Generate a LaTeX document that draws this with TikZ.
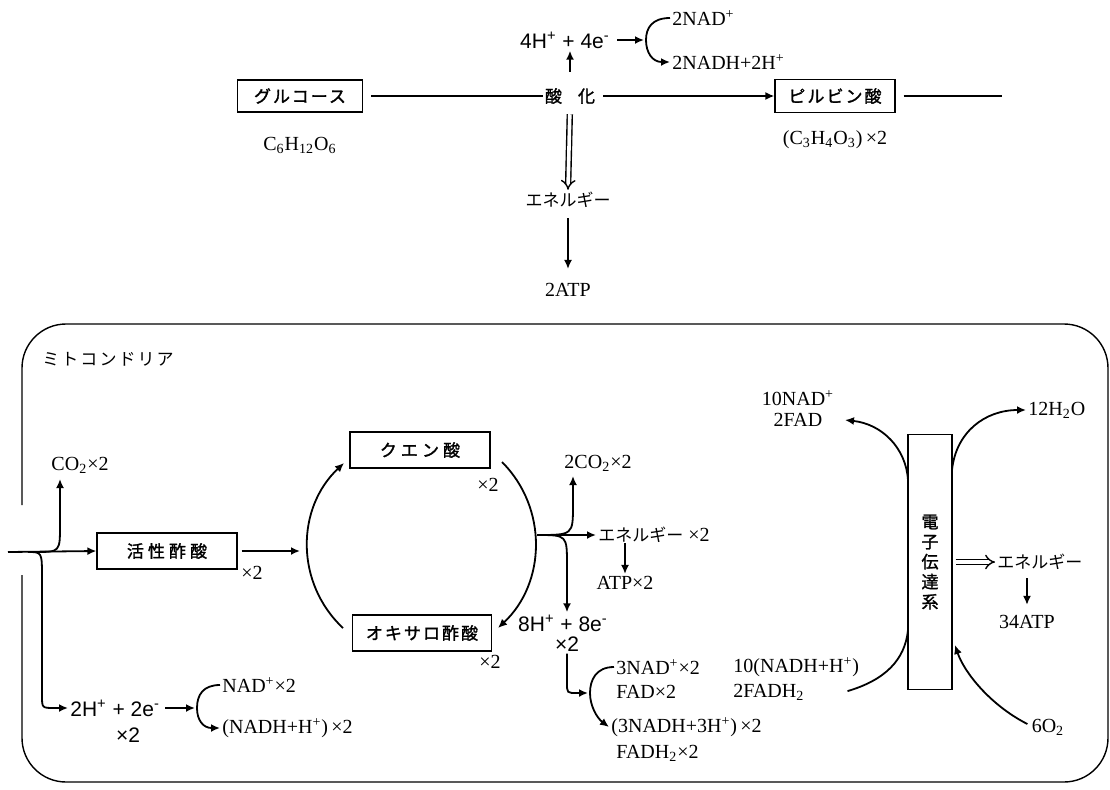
\documentclass[tikz,border=0pt]{standalone}
\usepackage{fontspec}
\setmainfont{Liberation Serif}
\setsansfont{Liberation Sans}
\newfontfamily\jpfont{Noto Sans CJK JP}
\newfontfamily\jpwide[LetterSpace=12]{Noto Sans CJK JP}
\newfontfamily\jpbold[FakeBold=1.6]{Noto Sans CJK JP}
\newfontfamily\jpboldwide[LetterSpace=12, FakeBold=1.6]{Noto Sans CJK JP}
\newfontfamily\jpboldwider[LetterSpace=24, FakeBold=1.6]{Noto Sans CJK JP}
\newcommand{\jp}[1]{{\jpfont\fontsize{8.5}{10}\selectfont #1}}
\usetikzlibrary{arrows.meta}

\tikzset{
	mybox/.style={draw, line width=0.6pt, inner sep=0pt},
	flow/.style={line width=0.9pt},
	arr/.style={flow, -{Latex[length=4.5pt, width=4pt]}},
	dbl/.style={double, double distance=1.8pt, line width=0.7pt, -{Implies}},
	chem/.style={font=\fontsize{10}{12}\selectfont, inner sep=1pt},
	ion/.style={font=\sffamily\fontsize{10.5}{12}\selectfont, inner sep=1pt},
	jp/.style={font=\jpfont\fontsize{8.5}{10}\selectfont, inner sep=1pt},
	jpw/.style={font=\jpwide\fontsize{8.5}{10}\selectfont, inner sep=1pt},
	jpbox/.style={font=\jpboldwide\fontsize{8.5}{10}\selectfont, inner sep=1pt},
	jpboxw/.style={font=\jpboldwider\fontsize{8.5}{10}\selectfont, inner sep=1pt},
}

\begin{document}
\begin{tikzpicture}[x=0.5pt, y=-0.5pt]
	\useasboundingbox (0,0) rectangle (1110,789);

	% Glycolysis.
	\node[mybox, jpbox, minimum width=62.5pt, minimum height=16pt] (glucose) at (300,96) {グルコース};
	\node[chem] (glucoseF) at (300,145) {C\textsubscript{6}H\textsubscript{12}O\textsubscript{6}};
	\node[jp, font=\jpbold\fontsize{8.5}{10}\selectfont] (oxid) at (570,96) {酸\hspace{8pt}化};
	\node[mybox, jpbox, minimum width=60pt, minimum height=16.5pt] (pyruv) at (835,96) {ピルビン酸};
	\node[chem] (pyruvF) at (835,140) {(C\textsubscript{3}H\textsubscript{4}O\textsubscript{3})\,×2};
	\coordinate (pyrEnd) at (1002,96);
	\node[ion] (hTop) at (565,40) {4H\textsuperscript{+} + 4e\textsuperscript{-}};
	\node[chem, anchor=west] (nadTop) at (670,18) {2NAD\textsuperscript{+}};
	\node[chem, anchor=west] (nadhTop) at (670,62) {2NADH+2H\textsuperscript{+}};
	\coordinate (brTop) at (646,40);
	\node[jp] (energyTop) at (568,200) {エネルギー};
	\node[chem] (atpTop) at (568,290) {2ATP};

	\draw[flow] (glucose.east) ++(8,0) -- (oxid.west);
	\draw[arr] (oxid.east) ++(6,0) -- (pyruv.west);
	\draw[flow] (pyruv.east) ++(8,0) -- (pyrEnd);
	\draw[arr, shorten <=7pt] (oxid.north -| 570,0) -- (hTop.south -| 570,0);
	\draw[arr, shorten >=1pt] (hTop.east) ++(5,0) -- (brTop);
	\draw[arr] (nadTop.west) .. controls (652,18) and (646,28) .. (brTop)
		.. controls (646,52) and (652,62) .. (nadhTop.west);
	\draw[dbl, shorten <=4pt] (oxid.south) -- (energyTop.north);
	\draw[arr, shorten <=4pt, shorten >=6pt] (energyTop.south) -- (atpTop.north);

	% Mitochondrion.
	\draw[line width=0.7pt, rounded corners=22pt] (22,505) -- (22,324) -- (1108,324) -- (1108,782) -- (22,782) -- (22,575);
	\node[jpw, anchor=west] (mitoLbl) at (40,359) {ミトコンドリア};

	% Acetyl branch.
	\coordinate (inL) at (8,552);
	\coordinate (splitUp) at (35,552);
	\coordinate (splitDn) at (28,552);
	\node[mybox, jpboxw, minimum width=70pt, minimum height=18pt] (acetyl) at (167,551) {活性酢酸};
	\node[chem] (x2acetyl) at (252,573) {×2};
	\node[chem] (co2L) at (80,465) {CO\textsubscript{2}×2};
	\node[ion, anchor=west] (h2L) at (68,708) {2H\textsuperscript{+} + 2e\textsuperscript{-}};
	\node[ion] (x2h2L) at (128,735) {×2};
	\coordinate (brL) at (197,708);
	\node[chem, anchor=west] (nadL) at (220,685) {NAD\textsuperscript{+}×2};
	\node[chem, anchor=west] (nadhL) at (220,728) {(NADH+H\textsuperscript{+})\,×2};

	\draw[arr] (inL) -- (acetyl.west);
	\draw[arr] (splitUp) .. controls (60,552) .. (60,525) -- (60,479);
	\draw[arr] (splitDn) .. controls (42,552) .. (42,578) -- (42,696) .. controls (42,708) .. (55,708) -- (h2L.west);
	\draw[arr, shorten >=1pt] (h2L.east) ++(3,0) -- (brL);
	\draw[arr] (nadL.west) .. controls (203,685) and (197,695) .. (brL)
		.. controls (197,720) and (203,728) .. (nadhL.west);

	% Citric acid cycle.
	\node[mybox, jpboxw, minimum width=70pt, minimum height=18pt] (citric) at (420,450) {クエン酸};
	\node[chem] (x2cit) at (488,485) {×2};
	\node[mybox, jpbox, minimum width=69.5pt, minimum height=18pt] (oxalo) at (422,633) {オキサロ酢酸};
	\node[chem] (x2oxa) at (490,662) {×2};
	\coordinate (cycIn) at (300,551);
	\coordinate (cycA) at (343,628);
	\coordinate (cycB) at (344,463);
	\coordinate (cycC) at (502,462);
	\coordinate (cycD) at (498,628);
	\coordinate (brR) at (537,535);

	\draw[arr] (acetyl.east) ++(4,0) -- (cycIn);
	\draw[arr] (cycA) .. controls (295,583) and (296,508) .. (cycB);
	\draw[arr] (cycC) .. controls (548,508) and (546,583) .. (cycD);

	\node[chem] (co2R) at (598,463) {2CO\textsubscript{2}×2};
	\node[chem, anchor=west] (energyR) at (596,535) {\jp{エネルギー}\ ×2};
	\node[chem] (atpR) at (625,583) {ATP×2};
	\node[ion] (h8R) at (563,623) {8H\textsuperscript{+} + 8e\textsuperscript{-}};
	\node[ion] (x2h8) at (567,644) {×2};
	\coordinate (br3) at (590,693);
	\node[chem, anchor=west] (nad3) at (614,667) {3NAD\textsuperscript{+}×2};
	\node[chem, anchor=west] (fad2) at (614,692) {FAD×2};
	\node[chem, anchor=west] (nadh3) at (609,727) {(3NADH+3H\textsuperscript{+})\,×2};
	\node[chem, anchor=west] (fadh2) at (614,753) {FADH\textsubscript{2}×2};
	\node[chem, anchor=west] (nadh10) at (731,667) {10(NADH+H\textsuperscript{+})};
	\node[chem, anchor=west] (fadh2b) at (731,692) {2FADH\textsubscript{2}};

	\draw[arr] (brR) .. controls (573,535) .. (573,505) -- (573,476);
	\draw[arr] (brR) -- (energyR.west);
	\draw[arr] (atpR.north |- energyR.south) ++(0,-2) -- (atpR.north);
	\draw[arr] (brR) .. controls (567,535) .. (567,565) -- (h8R.north -| 567,0);
	\draw[arr, shorten >=1pt] (x2h8.south) -- (567,683) .. controls (567,693) .. (577,693) -- (br3);
	\draw[arr] (nad3.west) .. controls (596,667) and (590,680) .. (br3)
		.. controls (590,706) and (597,718) .. (nadh3.west);

	% Electron transport chain.
	\node[mybox, minimum width=22pt, minimum height=127.5pt, align=center,
		font=\jpbold\fontsize{8.5}{10}\selectfont] (ets) at (930,562) {電\\子\\伝\\達\\系};
	\node[chem] (nad10) at (798,398) {10NAD\textsuperscript{+}};
	\node[chem] (fad2R) at (798,420) {2FAD};
	\node[chem, anchor=west] (h2o) at (1026,410) {12H\textsubscript{2}O};
	\node[jp, anchor=west] (energyE) at (995,562) {エネルギー};
	\node[chem] (atp34) at (1027,622) {34ATP};
	\node[chem] (o2) at (1048,727) {6O\textsubscript{2}};
	\coordinate (etsInL) at (908,630);
	\coordinate (etsOutL) at (908,480);
	\coordinate (etsOutR) at (952,470);
	\coordinate (etsInR) at (955,645);
	\coordinate (nadTip) at (845,420);

	\draw[flow] (nadh10.south east) ++(-14,12) .. controls (885,680) and (905,660) .. (etsInL);
	\draw[arr] (etsOutL) .. controls (906,448) and (882,424) .. (nadTip);
	\draw[arr] (etsOutR) .. controls (956,432) and (985,410) .. (h2o.west);
	\draw[dbl] (ets.east) ++(3,0) -- (energyE.west);
	\draw[arr, shorten <=3pt, shorten >=4pt] (energyE.south -| atp34.north) -- (atp34.north);
	\draw[arr] (o2.west) ++(-2,-3) .. controls (990,705) and (964,672) .. (etsInR);

\end{tikzpicture}
\end{document}
